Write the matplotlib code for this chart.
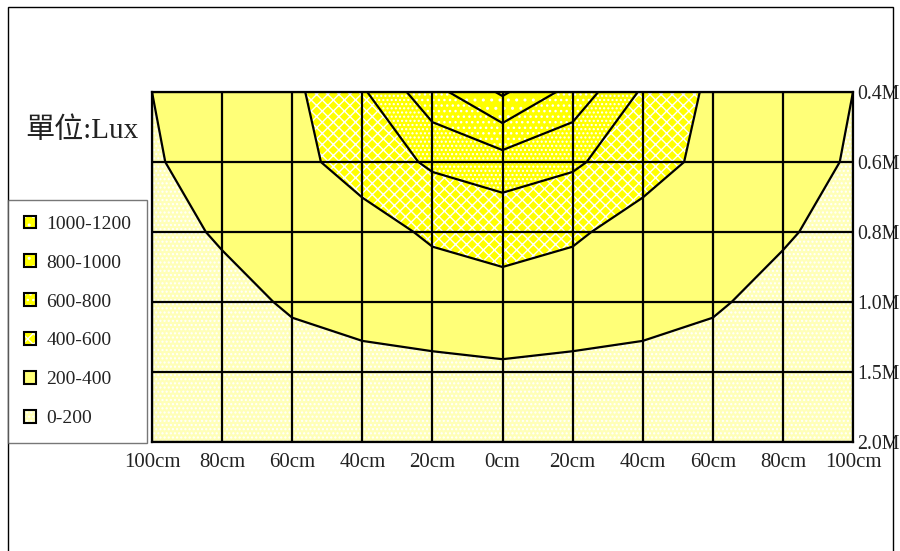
import matplotlib
matplotlib.use("Agg")
import matplotlib.pyplot as plt
import numpy as np
from matplotlib.patches import Patch, Rectangle
from matplotlib.legend_handler import HandlerTuple

# ---- data ----
x_labels = ["100cm", "80cm", "60cm", "40cm", "20cm", "0cm", "20cm", "40cm", "60cm", "80cm", "100cm"]
y_labels = ["0.4M", "0.6M", "0.8M", "1.0M", "1.5M", "2.0M"]
row_04 = [200, 290, 360, 575, 930, 1230, 930, 575, 360, 290, 200]
row_06 = [186, 260, 339, 488, 628, 712, 628, 488, 339, 260, 186]
row_08 = [117, 225, 270, 315, 431, 457, 431, 315, 270, 225, 117]
row_10 = [60, 129, 226, 250, 283, 343, 283, 250, 226, 129, 60]
row_15 = [40, 70, 110, 160, 165, 168, 165, 160, 110, 70, 40]
row_20 = [20, 40, 60, 80, 90, 95, 90, 80, 60, 40, 20]
legend_labels = ["1000-1200", "800-1000", "600-800", "400-600", "200-400", "0-200"]
levels = [0, 200, 400, 600, 800, 1000, 1200, 1400]

Z = np.array([row_04, row_06, row_08, row_10, row_15, row_20], dtype=float)

plt.rcParams['hatch.color'] = 'white'
plt.rcParams['hatch.linewidth'] = 1.0

W, H = 900, 551
fig = plt.figure(figsize=(W / 100, H / 100), dpi=100)

# outer frame
fig.patches.append(Rectangle((8 / W, -0.05), (893 - 8) / W, 1 - 7 / H + 0.05,
                             transform=fig.transFigure, fill=False,
                             edgecolor='black', linewidth=1.0))

ax = fig.add_axes([152 / W, 1 - 442 / H, 701 / W, 350 / H])
xs = np.arange(len(x_labels))
ys = np.arange(len(y_labels))

fills = ['#FFFFB8', '#FFFF78', '#FFFF00', '#FFFF00', '#FFFF00', '#FFFF00', '#FFFF00']
hatches = ['....', None, 'xxx', '....', '...', '..', '..']
cs = ax.contourf(xs, ys, Z, levels=levels, colors=fills, hatches=hatches)
ax.contour(xs, ys, Z, levels=levels[1:-1], colors='black', linewidths=1.6)

ax.set_xlim(0, len(x_labels) - 1)
ax.set_ylim(len(y_labels) - 1, 0)
ax.set_xticks(xs)
ax.set_xticklabels(x_labels)
ax.set_yticks(ys)
ax.set_yticklabels(y_labels)
ax.yaxis.tick_right()
ax.tick_params(axis='both', length=0, colors='#222222')
ax.tick_params(axis='x', pad=8, labelsize=15)
ax.tick_params(axis='y', pad=3, labelsize=14.3)
for lab in ax.get_xticklabels() + ax.get_yticklabels():
    lab.set_fontfamily(['Liberation Serif', 'DejaVu Serif'])
ax.grid(True, color='black', linewidth=1.6)
ax.set_axisbelow(False)
for s in ax.spines.values():
    s.set_linewidth(1.6)
    s.set_color('black')

# unit label
fig.text(25 / W, 1 - 131 / H, "單位:Lux", fontsize=21, color='#222222',
         family=['Liberation Serif', 'Noto Sans CJK TC'], va='center', ha='left')

# legend
leg_fill = ['#FFFF00', '#FFFF00', '#FFFF00', '#FFFF00', '#FFFF78', '#FFFFB8']
leg_hatch = ['..', '..', '...', 'xxx', None, '....']
handles = [(Patch(facecolor=c, edgecolor='white', hatch=h, linewidth=0),
            Patch(facecolor='none', edgecolor='black', linewidth=1.5))
           for c, h in zip(leg_fill, leg_hatch)]
leg = fig.legend(handles, legend_labels, loc='upper left',
                 bbox_to_anchor=(8 / W, 1 - 200 / H), borderaxespad=0,
                 frameon=True, handler_map={tuple: HandlerTuple(ndivide=1, pad=0)},
                 prop={'family': 'Liberation Serif', 'size': 14},
                 handlelength=0.62, handleheight=0.62, handletextpad=0.55,
                 labelspacing=1.12, borderpad=0.8, fancybox=False)
leg.get_frame().set_edgecolor('#555555')
leg.get_frame().set_linewidth(1.0)
for t in leg.get_texts():
    t.set_color('#222222')

fig.savefig("out.png", dpi=100)
